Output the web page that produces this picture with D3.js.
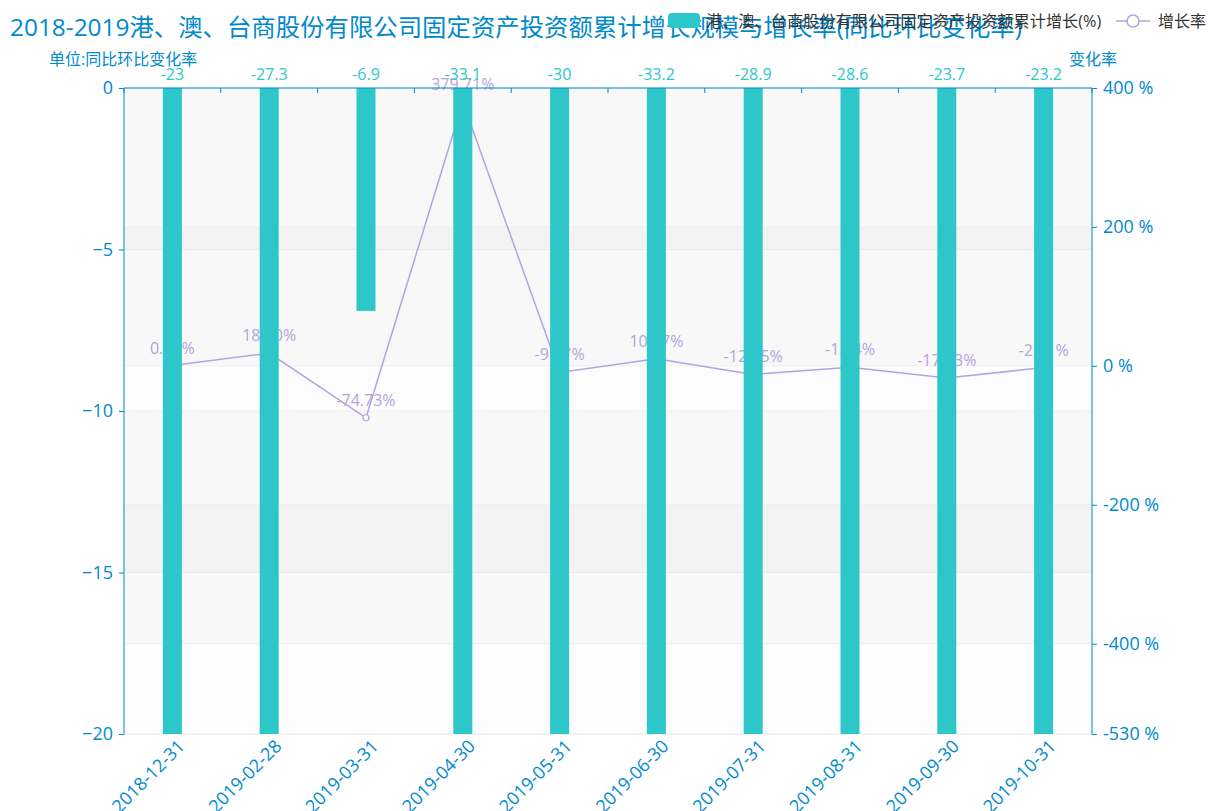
<!DOCTYPE html>
<html>
<head>
<meta charset="utf-8">
<script src="https://cdn.jsdelivr.net/npm/d3@7"></script>
<style>
  body { margin: 0; background: #fff; }
  svg text { font-family: "Open Sans", "Noto Sans CJK SC", sans-serif; }
</style>
</head>
<body>
<div id="chart"></div>
<script>
// data
const dates = ['2018-12-31', '2019-02-28', '2019-03-31', '2019-04-30', '2019-05-31',
               '2019-06-30', '2019-07-31', '2019-08-31', '2019-09-30', '2019-10-31'];
const scaleValues = [-23, -27.3, -6.9, -33.1, -30, -33.2, -28.9, -28.6, -23.7, -23.2];
const growthRates = [0.47, 18.30, -74.73, 379.71, -9.47, 10.27, -12.45, -1.94, -17.63, -2.51];
const leftTicks = [0, -5, -10, -15, -20];
const rightTicks = [400, 200, 0, -200, -400, -530];

const titleText = '2018-2019港、澳、台商股份有限公司固定资产投资额累计增长规模与增长率(同比环比变化率)';
const barName = '港、澳、台商股份有限公司固定资产投资额累计增长(%)';
const lineName = '增长率';

let width = 1208, height = 811,
    margin = { left: 124, top: 88, right: 116, bottom: 77 },
    axisColor = '#008acd',
    barColor = '#2ec7c9',
    lineColor = '#b6a2de';

let plotW = width - margin.left - margin.right,
    plotH = height - margin.top - margin.bottom;

let svg = d3.select('#chart')
            .append('svg')
            .attr('width', width)
            .attr('height', height);

let x = d3.scaleBand()
          .domain(dates)
          .range([margin.left, margin.left + plotW]);

let yLeft = d3.scaleLinear()
              .domain([-20, 0])
              .range([margin.top + plotH, margin.top]);

let yRight = d3.scaleLinear()
               .domain([-530, 400])
               .range([margin.top + plotH, margin.top]);

// split areas (both value axes, faint alternating bands)
let bandColors = ['rgba(250,250,250,0.1)', 'rgba(200,200,200,0.1)'];
function splitAreas(scale, ticks) {
  let asc = ticks.slice().sort((a, b) => a - b);
  let g = svg.append('g');
  for (let i = 0; i < asc.length - 1; i++) {
    g.append('rect')
     .attr('x', margin.left)
     .attr('width', plotW)
     .attr('y', scale(asc[i + 1]))
     .attr('height', scale(asc[i]) - scale(asc[i + 1]))
     .attr('fill', bandColors[i % 2]);
  }
  asc.forEach(t => {
    g.append('line')
     .attr('x1', margin.left).attr('x2', margin.left + plotW)
     .attr('y1', scale(t)).attr('y2', scale(t))
     .attr('stroke', '#eee');
  });
}
splitAreas(yLeft, leftTicks);
splitAreas(yRight, rightTicks);

svg.append('clipPath').attr('id', 'plotClip')
   .append('rect')
   .attr('x', margin.left).attr('y', margin.top)
   .attr('width', plotW).attr('height', plotH);

// growth rate line (drawn under the bars)
let line = d3.line()
             .x((d, i) => x(dates[i]) + x.bandwidth() / 2)
             .y(d => yRight(d));

svg.append('path')
   .datum(growthRates)
   .attr('fill', 'none')
   .attr('stroke', lineColor)
   .attr('stroke-width', 1.5)
   .attr('d', line);

svg.append('g')
   .selectAll('circle')
   .data(growthRates)
   .enter()
   .append('circle')
   .attr('cx', (d, i) => x(dates[i]) + x.bandwidth() / 2)
   .attr('cy', d => yRight(d))
   .attr('r', 3)
   .attr('fill', '#fff')
   .attr('stroke', lineColor)
   .attr('stroke-width', 1.2);

svg.append('g')
   .selectAll('text')
   .data(growthRates)
   .enter()
   .append('text')
   .attr('x', (d, i) => x(dates[i]) + x.bandwidth() / 2)
   .attr('y', d => yRight(d) - 12)
   .attr('text-anchor', 'middle')
   .attr('font-size', 16)
   .attr('fill', lineColor)
   .text(d => d.toFixed(2) + '%');

// bars
let barW = 19;
svg.append('g')
   .attr('clip-path', 'url(#plotClip)')
   .selectAll('rect')
   .data(scaleValues)
   .enter()
   .append('rect')
   .attr('x', (d, i) => x(dates[i]) + x.bandwidth() / 2 - barW / 2)
   .attr('y', yLeft(0))
   .attr('width', barW)
   .attr('height', d => yLeft(Math.max(d, -20.5)) - yLeft(0))
   .attr('fill', barColor);

svg.append('g')
   .selectAll('text')
   .data(scaleValues)
   .enter()
   .append('text')
   .attr('x', (d, i) => x(dates[i]) + x.bandwidth() / 2)
   .attr('y', yLeft(0) - 8)
   .attr('text-anchor', 'middle')
   .attr('font-size', 16)
   .attr('fill', barColor)
   .text(d => d);

// category axis sits on the zero line (top), labels at bottom
let xAxisG = svg.append('g')
                .attr('transform', 'translate(0,' + yLeft(0) + ')');
xAxisG.append('line')
      .attr('x1', margin.left).attr('x2', margin.left + plotW)
      .attr('stroke', axisColor);
let boundaries = dates.map(d => x(d)).concat([margin.left + plotW]);
xAxisG.selectAll('line.tick')
      .data(boundaries)
      .enter()
      .append('line')
      .attr('class', 'tick')
      .attr('x1', d => d).attr('x2', d => d)
      .attr('y1', 0).attr('y2', 5)
      .attr('stroke', axisColor);

svg.append('g')
   .selectAll('text')
   .data(dates)
   .enter()
   .append('text')
   .attr('transform', d => 'translate(' + (x(d) + x.bandwidth() / 2 + 9) + ',' + (margin.top + plotH + 9) + ') rotate(-45)')
   .attr('text-anchor', 'end')
   .attr('dy', '0.35em')
   .attr('font-size', 18)
   .attr('fill', axisColor)
   .text(d => d);

// value axes
let leftAxis = d3.axisLeft(yLeft).tickValues(leftTicks).tickSize(5).tickPadding(6);
let gl = svg.append('g')
   .attr('transform', 'translate(' + margin.left + ',0)')
   .call(leftAxis);

let rightAxis = d3.axisRight(yRight).tickValues(rightTicks).tickSize(5).tickPadding(6)
                  .tickFormat(d => d + ' %');
let gr = svg.append('g')
   .attr('transform', 'translate(' + (margin.left + plotW) + ',0)')
   .call(rightAxis);

[gl, gr].forEach(g => {
  g.select('.domain').attr('stroke', axisColor).attr('d', function () {
    return 'M0,' + margin.top + 'V' + (margin.top + plotH);
  });
  g.selectAll('.tick line').attr('stroke', axisColor);
  g.selectAll('.tick text')
   .attr('fill', axisColor)
   .attr('font-size', 18)
   .style('font-family', '"Open Sans", "Noto Sans CJK SC", sans-serif');
});

// axis names
svg.append('text')
   .attr('x', 49).attr('y', 65)
   .attr('font-size', 16)
   .attr('fill', axisColor)
   .text('单位:同比环比变化率');

svg.append('text')
   .attr('x', 1117).attr('y', 65)
   .attr('text-anchor', 'end')
   .attr('font-size', 16)
   .attr('fill', axisColor)
   .text('变化率');

// title
svg.append('text')
   .attr('x', 10).attr('y', 36)
   .attr('font-size', 24.4)
   .attr('fill', axisColor)
   .text(titleText);

// legend
let legend = svg.append('g');
legend.append('rect')
      .attr('x', 668).attr('y', 13)
      .attr('width', 32).attr('height', 15)
      .attr('rx', 4)
      .attr('fill', barColor);
legend.append('text')
      .attr('x', 706).attr('y', 27)
      .attr('font-size', 16.2)
      .attr('fill', '#333')
      .text(barName);
legend.append('line')
      .attr('x1', 1116).attr('x2', 1150)
      .attr('y1', 21).attr('y2', 21)
      .attr('stroke', lineColor)
      .attr('stroke-width', 1.5);
legend.append('circle')
      .attr('cx', 1133).attr('cy', 21).attr('r', 6)
      .attr('fill', '#fff')
      .attr('stroke', lineColor)
      .attr('stroke-width', 1.5);
legend.append('text')
      .attr('x', 1158).attr('y', 27)
      .attr('font-size', 16)
      .attr('fill', '#333')
      .text(lineName);
</script>
</body>
</html>
